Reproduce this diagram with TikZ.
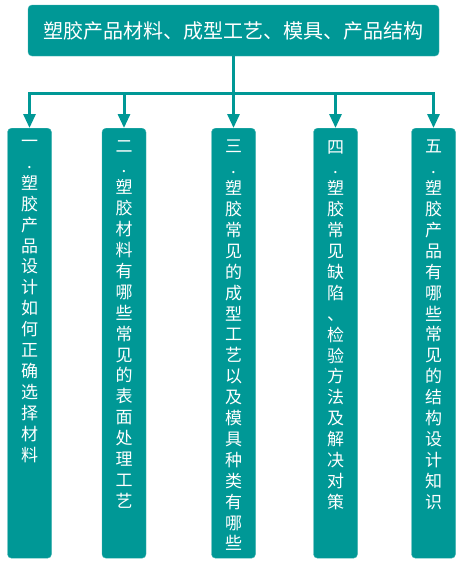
\documentclass[tikz,border=0pt]{standalone}
\usepackage{fontspec}
\newfontfamily\cjk{Noto Sans CJK SC}
\usetikzlibrary{arrows.meta,calc}
\definecolor{boxteal}{RGB}{0,152,150}

\begin{document}
\begin{tikzpicture}[x=1pt,y=-1pt,
  topbox/.style={fill=boxteal, draw=boxteal!75, rounded corners=4pt, minimum width=411pt, minimum height=51pt, text=white, font=\cjk\fontsize{20}{24}\selectfont},
  colbox/.style={fill=boxteal, draw=boxteal!75, rounded corners=4pt, minimum width=44pt, minimum height=430pt, anchor=north},
  coltext/.style={text=white, align=center, anchor=north, inner sep=0pt, font=\cjk\fontsize{17}{20.9}\selectfont},
  link/.style={draw=boxteal, line width=3pt}]
  \useasboundingbox (0,0) rectangle (461,563);
  % Define dimensions
  \def\coltop{128}
  \def\busy{93}
  \def\textgap{12}

  % Title box
  \node[topbox] (title) at (233.5,30.5) {塑胶产品材料、成型工艺、模具、产品结构};

  % Five column boxes
  \foreach \n/\x in {1/29.5, 2/124, 3/233.5, 4/335.5, 5/433.5} {
    \node[colbox] (col\n) at (\x,\coltop) {};
  }

  % Column texts, one character per line
  \node[coltext] (txt1) at ($(col1.north)+(0,\textgap)$) {一\\.\\塑\\胶\\产\\品\\设\\计\\如\\何\\正\\确\\选\\择\\材\\料};
  \node[coltext] (txt2) at ($(col2.north)+(0,\textgap)$) {二\\.\\塑\\胶\\材\\料\\有\\哪\\些\\常\\见\\的\\表\\面\\处\\理\\工\\艺};
  \node[coltext] (txt3) at ($(col3.north)+(0,\textgap)$) {三\\.\\塑\\胶\\常\\见\\的\\成\\型\\工\\艺\\以\\及\\模\\具\\种\\类\\有\\哪\\些};
  \node[coltext] (txt4) at ($(col4.north)+(0,\textgap)$) {四\\.\\塑\\胶\\常\\见\\缺\\陷\\、\\检\\验\\方\\法\\及\\解\\决\\对\\策};
  \node[coltext] (txt5) at ($(col5.north)+(0,\textgap)$) {五\\.\\塑\\胶\\产\\品\\有\\哪\\些\\常\\见\\的\\结\\构\\设\\计\\知\\识};

  % Connectors from title to columns
  \coordinate (bus) at (233.5,\busy);
  \draw[link] (title.south) -- (bus);
  \foreach \n in {1,...,5} {
    \draw[link, -{Triangle[width=12pt,length=14pt]}] (bus) -| (col\n.north);
  }
\end{tikzpicture}
\end{document}
